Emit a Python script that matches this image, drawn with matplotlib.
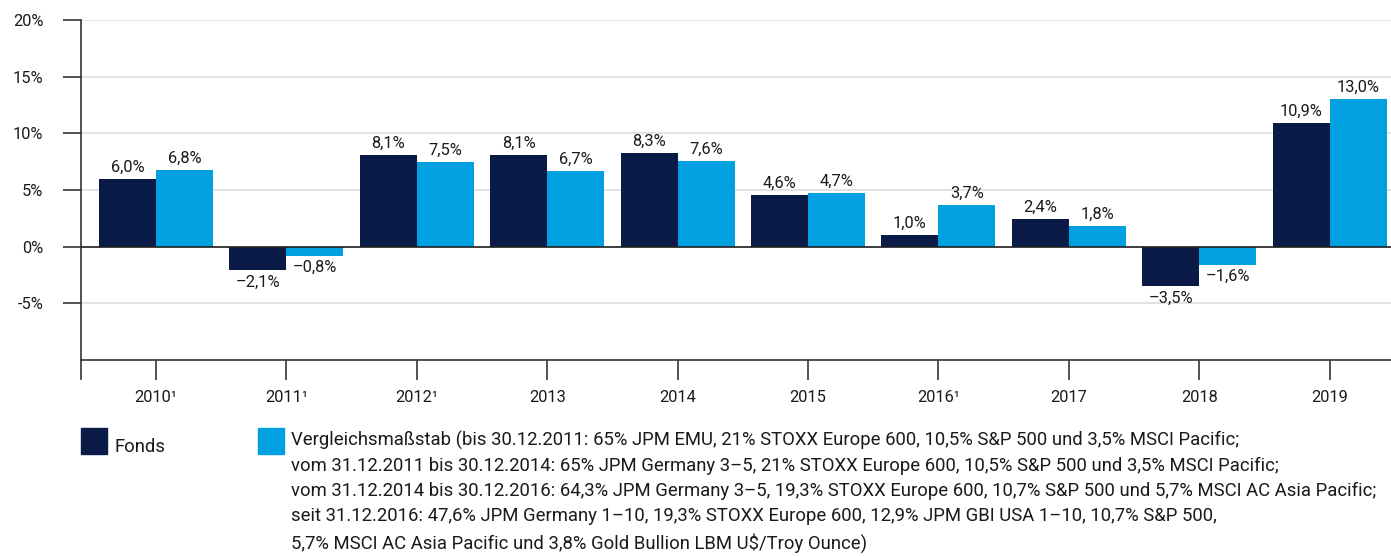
import numpy as np
import matplotlib
matplotlib.use("Agg")
import matplotlib.pyplot as plt
from matplotlib.patches import Rectangle

plt.rcParams['font.family'] = ['Roboto', 'DejaVu Sans']

years = ['2010¹', '2011¹', '2012¹', '2013', '2014', '2015', '2016¹', '2017', '2018', '2019']
fonds = [6.0, -2.1, 8.1, 8.1, 8.3, 4.6, 1.0, 2.4, -3.5, 10.9]
bench = [6.8, -0.8, 7.5, 6.7, 7.6, 4.7, 3.7, 1.8, -1.6, 13.0]
yticks = [-5, 0, 5, 10, 15, 20]
ytick_labels = ['-5%', '0%', '5%', '10%', '15%', '20%']

legend_fonds = 'Fonds'
legend_bench = ('Vergleichsmaßstab (bis 30.12.2011: 65% JPM EMU, 21% STOXX Europe 600, 10,5% S&P 500 und 3,5% MSCI Pacific;\n'
                'vom 31.12.2011 bis 30.12.2014: 65% JPM Germany 3–5, 21% STOXX Europe 600, 10,5% S&P 500 und 3,5% MSCI Pacific;\n'
                'vom 31.12.2014 bis 30.12.2016: 64,3% JPM Germany 3–5, 19,3% STOXX Europe 600, 10,7% S&P 500 und 5,7% MSCI AC Asia Pacific;\n'
                'seit 31.12.2016: 47,6% JPM Germany 1–10, 19,3% STOXX Europe 600, 12,9% JPM GBI USA 1–10, 10,7% S&P 500,\n'
                '5,7% MSCI AC Asia Pacific und 3,8% Gold Bullion LBM U$/Troy Ounce)')

navy = '#0A1B47'
cyan = '#00A0E1'
txt = '#1a1a1a'

def fmt(v):
    s = f'{abs(v):.1f}%'.replace('.', ',')
    return ('–' + s) if v < 0 else s

fig = plt.figure(figsize=(13.91, 5.56), dpi=100)
ax = fig.add_axes([81/1391, 1 - 360/556, 1 - 81/1391, 340/556])

x = np.arange(len(years))
w = 0.437
b1 = ax.bar(x - w/2, fonds, width=w, color=navy, zorder=3)
b2 = ax.bar(x + w/2, bench, width=w, color=cyan, zorder=3)

# value labels above / below bars
for bars, vals in ((b1, fonds), (b2, bench)):
    for r, v in zip(bars, vals):
        cx = r.get_x() + r.get_width()/2
        if v >= 0:
            ax.annotate(fmt(v), (cx, v), xytext=(0, 3), textcoords='offset points',
                        ha='center', va='bottom', fontsize=11.8, color=txt)
        else:
            ax.annotate(fmt(v), (cx, v), xytext=(0, -3), textcoords='offset points',
                        ha='center', va='top', fontsize=11.8, color=txt)

ax.set_xlim(-0.575, 9.47)
ax.set_ylim(-10, 20)
ax.set_yticks(yticks)
ax.set_yticklabels(ytick_labels)
ax.set_xticks(x)
ax.set_xticklabels(years)
ax.grid(axis='y', color='#dddddd', linewidth=1.2, zorder=0)
ax.axhline(0, color='#222222', linewidth=1.2, zorder=4)
ax.set_axisbelow(True)

for s in ('top', 'right'):
    ax.spines[s].set_visible(False)
for s in ('left', 'bottom'):
    ax.spines[s].set_color('#333333')
    ax.spines[s].set_linewidth(1.2)
# left axis line runs a bit below the bottom axis
ax.plot([0, 0], [0, -0.055], transform=ax.transAxes, color='#333333', lw=1.2, clip_on=False)

ax.tick_params(axis='y', length=13, width=1.2, color='#333333', labelsize=11.8, pad=14, labelcolor=txt)
ax.tick_params(axis='x', length=14.5, width=1.2, color='#333333', labelsize=11.8, pad=7, labelcolor=txt)

# legend
fig.patches.append(Rectangle((81/1391, 1 - 454/556), 26/1391, 26/556, transform=fig.transFigure,
                             color=navy, figure=fig))
fig.text(115/1391, 1 - 447/556, legend_fonds, fontsize=13.3, color=txt, va='center', ha='left')
fig.patches.append(Rectangle((258/1391, 1 - 454/556), 26/1391, 26/556, transform=fig.transFigure,
                             color=cyan, figure=fig))
fig.text(291/1391, 1 - 431/556, legend_bench, fontsize=13.3, color=txt, va='top', ha='left',
         linespacing=1.5)

fig.savefig('out.png', dpi=100)
